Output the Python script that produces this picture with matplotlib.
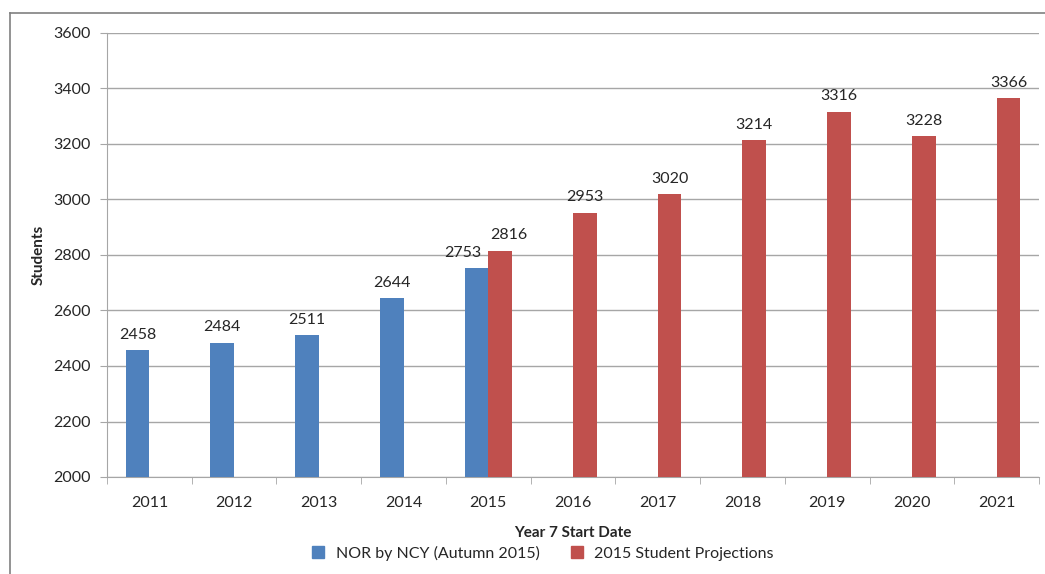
#!/usr/bin/env python3
"""Year 7 student numbers: actual NOR vs 2015 projections"""

import numpy as np
import matplotlib.pyplot as plt
from matplotlib.lines import Line2D

years = ['2011', '2012', '2013', '2014', '2015', '2016', '2017', '2018', '2019', '2020', '2021']
nor_actual = [2458, 2484, 2511, 2644, 2753, None, None, None, None, None, None]
projections = [None, None, None, None, 2816, 2953, 3020, 3214, 3316, 3228, 3366]

BLUE = '#4F81BD'
RED = '#C0504D'
GRID = '#A6A6A6'
TEXT = '#262626'
FS = 11.5

plt.rcParams['font.family'] = ['Lato', 'DejaVu Sans']

fig = plt.figure(figsize=(10.45, 5.74), dpi=100)
ax = fig.add_axes([107 / 1045, 1 - 477 / 574, 932 / 1045, 444 / 574])

x = np.arange(len(years))
width = 0.28

for i, v in enumerate(nor_actual):
    if v is None:
        continue
    ax.bar(x[i] - width / 2, v - 2000, width, bottom=2000, color=BLUE, zorder=3)
    # 2015 labels are pushed apart so they do not collide
    dx = -10 if projections[i] is not None else 0
    ax.annotate(str(v), (x[i] - width / 2, v), xytext=(dx, 6), textcoords='offset points',
                ha='center', va='bottom', fontsize=FS, color=TEXT)

for i, v in enumerate(projections):
    if v is None:
        continue
    ax.bar(x[i] + width / 2, v - 2000, width, bottom=2000, color=RED, zorder=3)
    dx = 6 if nor_actual[i] is not None else 0
    ax.annotate(str(v), (x[i] + width / 2, v), xytext=(dx, 6), textcoords='offset points',
                ha='center', va='bottom', fontsize=FS, color=TEXT)

ax.set_xlim(-0.5, len(years) - 0.5)
ax.set_ylim(2000, 3600)
ax.set_yticks(range(2000, 3601, 200))
ax.yaxis.grid(True, color=GRID, linewidth=1)
ax.set_axisbelow(True)

ax.set_xticks(x)
ax.set_xticklabels(years)
ax.set_xticks(np.arange(-0.5, len(years)), minor=True)
ax.tick_params(axis='x', which='major', length=0, pad=14, labelsize=FS, labelcolor=TEXT)
ax.tick_params(axis='x', which='minor', length=5, color=GRID, direction='out')
ax.tick_params(axis='y', length=5, color=GRID, direction='out', pad=7, labelsize=FS, labelcolor=TEXT)

for side in ('top', 'right'):
    ax.spines[side].set_visible(False)
for side in ('left', 'bottom'):
    ax.spines[side].set_color(GRID)

ax.set_xlabel('Year 7 Start Date', fontsize=11, fontweight='bold', color=TEXT, labelpad=11)
ax.set_ylabel('Students', fontsize=11, fontweight='bold', color=TEXT, labelpad=5)

handles = [
    Line2D([], [], marker='s', linestyle='none', markersize=8, color=BLUE),
    Line2D([], [], marker='s', linestyle='none', markersize=8, color=RED),
]
fig.legend(handles, ['NOR by NCY (Autumn 2015)', '2015 Student Projections'],
           loc='center', bbox_to_anchor=(538 / 1045, 1 - 553 / 574), ncol=2,
           frameon=False, fontsize=FS, handletextpad=0.1, columnspacing=1.3,
           labelcolor=TEXT)

# partial outer frame of the original screenshot
fig.add_artist(Line2D([10 / 1045, 1], [1 - 13 / 574] * 2, color='#808080', linewidth=1.2,
                      transform=fig.transFigure))
fig.add_artist(Line2D([10 / 1045] * 2, [0, 1 - 13 / 574], color='#808080', linewidth=1.2,
                      transform=fig.transFigure))

fig.savefig('out.png', dpi=100)
